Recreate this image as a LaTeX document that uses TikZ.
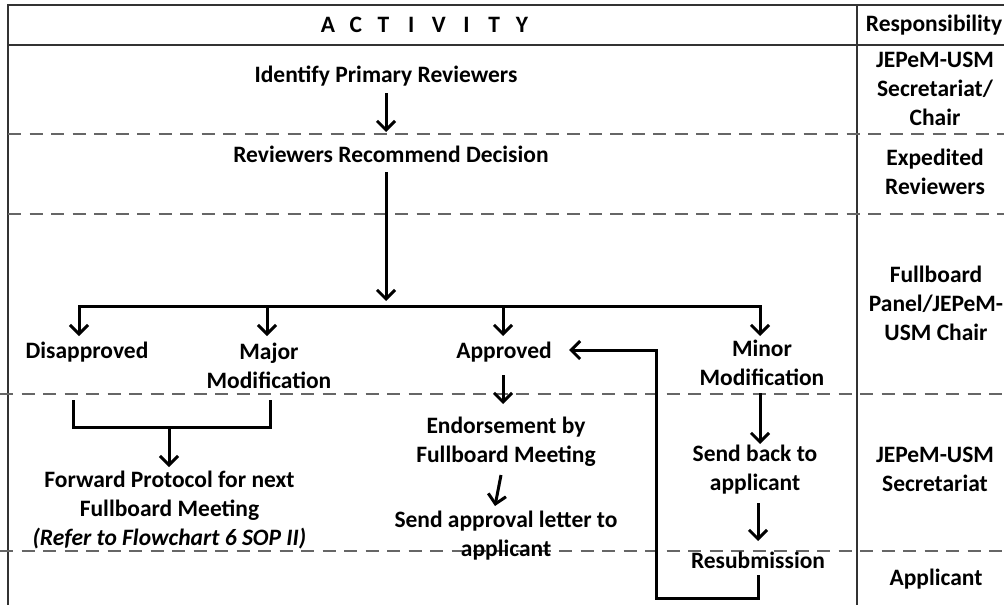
\documentclass[tikz,border=0pt]{standalone}
\usepackage{fontspec}
\setmainfont{Carlito}
\usetikzlibrary{arrows.meta,calc}
\begin{document}
\begin{tikzpicture}[x=1pt,y=-1pt,
  txt/.style={font=\fontsize{23.5}{29}\bfseries\selectfont, inner sep=0pt, align=center, anchor=base},
  arr/.style={line width=3pt, -{Straight Barb[length=9pt,width=18pt,line width=3pt]}},
  ln/.style={line width=3pt},
  frame/.style={line width=1.6pt, draw=black!80},
  dsh/.style={line width=2pt, draw=black!60, dash pattern=on 13pt off 8.5pt}]
\useasboundingbox (0,0) rectangle (1004,605);
% frame
\draw[frame] (8,605) -- (8,5) -- (1004,5);
\draw[frame] (8,45) -- (1004,45);
\draw[frame] (857,5) -- (857,605);
\draw[dsh] (8,134) -- (1004,134);
\draw[dsh] (8,214) -- (1004,214);
\draw[dsh] (0,394) -- (1004,394);
\draw[dsh] (0,551) -- (1004,551);
% header
\node[txt] (hdr) at (425,32) {\makebox[27.7pt]{A}\makebox[27.7pt]{C}\makebox[27.7pt]{T}\makebox[27.7pt]{I}\makebox[27.7pt]{V}\makebox[27.7pt]{I}\makebox[27.7pt]{T}\makebox[27.7pt]{Y}};
\node[txt] (resp) at (934,31) {Responsibility};
% responsibility column
\node[txt] (r1) at (935,125) {JEPeM-USM\\Secretariat/\\Chair};
\node[txt] (r2) at (935,194) {Expedited\\Reviewers};
\node[txt] (r3) at (936,340) {Fullboard\\Panel/JEPeM-\\USM Chair};
\node[txt] (r4) at (935,491) {JEPeM-USM\\Secretariat};
\node[txt] (r5) at (936,585) {Applicant};
% activity
\node[txt] (idr) at (386,82) {Identify Primary Reviewers};
\node[txt] (rrd) at (391,162) {Reviewers Recommend Decision};
\node[txt] (dis) at (87,358) {Disapproved};
\node[txt] (maj) at (269,388) {Major\\Modification};
\node[txt] (app) at (504,358) {Approved};
\node[txt] (min) at (762,385) {Minor\\Modification};
\node[txt] (endo) at (506,462) {Endorsement by\\Fullboard Meeting};
\node[txt] (sal) at (506,556) {Send approval letter to\\applicant};
\node[txt] (fwd) at (169.5,545) {Forward Protocol for next\\Fullboard Meeting\\\textit{(Refer to Flowchart 6 SOP II)}};
\node[txt] (sba) at (755,490) {Send back to\\applicant};
\node[txt] (res) at (758,568) {Resubmission};
% connectors
\coordinate (bar) at (386,306);
\draw[arr] (idr.south |- 0,93) -- (idr.south |- 0,132);
\draw[arr] (idr.south |- 0,172) -- (bar |- 0,301);
\draw[arr] (bar) -| (79,336);
\draw[arr] (bar) -| (760,336);
\draw[arr] (267,306) -- (267,336);
\draw[arr] (503,306) -- (503,336);
\draw[ln] (73,400) -- (73,427) -- (270,427) -- (270,400);
\draw[arr] (169,427) -- (169,467);
\draw[arr] (503,375) -- (503,404);
\draw[arr] (501,475) -- (495,506);
\draw[arr] (760,393) -- (760,444);
\draw[arr] (758,503) -- (758,541);
\draw[arr] (758,575) -- (758,598) -- (656,598) -- (656,350) -- (569,350);
\end{tikzpicture}
\end{document}
